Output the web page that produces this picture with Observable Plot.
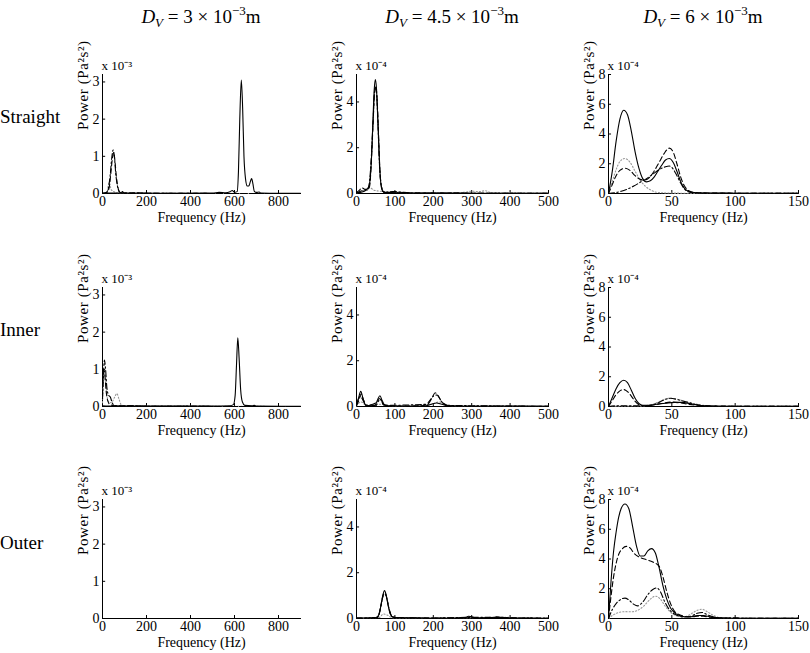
<!DOCTYPE html>
<html><head><meta charset="utf-8">
<script src="https://cdn.jsdelivr.net/npm/d3@7"></script>
<script src="https://cdn.jsdelivr.net/npm/@observablehq/plot@0.6"></script>
<style>
body{margin:0;background:#fff;}
#root{position:relative;width:810px;height:653px;background:#fff;font-family:"Liberation Serif",serif;color:#000;overflow:hidden}
.title{position:absolute;top:6px;font-size:19px;white-space:nowrap;transform:translateX(-50%)}
.title sub{font-size:13px;vertical-align:-4px;line-height:0}
.title sup{font-size:13px;vertical-align:8px;line-height:0}
.row{position:absolute;left:0;font-size:19px;transform:translateY(-50%);white-space:nowrap}
.panel{position:absolute}
.panel svg{max-width:none !important;font-family:"Liberation Serif",serif !important}
.panel svg text{font-family:"Liberation Serif",serif !important}
</style></head><body><div id="root"></div>
<script>
// ---- column / row labels ----
const colTitles = [
  '<i>D</i><sub><i>V</i></sub> = 3 × 10<sup>−3</sup>m',
  '<i>D</i><sub><i>V</i></sub> = 4.5 × 10<sup>−3</sup>m',
  '<i>D</i><sub><i>V</i></sub> = 6 × 10<sup>−3</sup>m'
];
const rowLabels = ["Straight", "Inner", "Outer"];
const xMax = [900, 500, 150];
const xTicks = [[0,200,400,600,800],[0,100,200,300,400,500],[0,50,100,150]];
const yMax = [3.2, 5.2, 8];
const yTicks = [[0,1,2,3],[0,2,4],[0,2,4,6,8]];
const expLabels = ["x 10⁻³", "x 10⁻⁴", "x 10⁻⁴"];

// ---- Straight, D_V = 3e-3 (values x1e-3) ----
const straight3_solid = [[0,0.01],[100,0.01],[200,0.01],[300,0.005],[400,0.005],[500,0.01],[530,0.03],[560,0.02],[580,0.05],[590,0.08],[600,0.03],[612,0.05],[618,0.6],[624,2.0],[631,3.05],[637,2.3],[643,1.0],[650,0.4],[658,0.2],[665,0.2],[672,0.32],[678,0.4],[684,0.25],[690,0.06],[700,0.03],[712,0.04],[720,0.01],[800,0.005],[900,0.005]];
const straight3_dashed = [[0,0],[20,0.03],[30,0.15],[38,0.55],[45,0.95],[51,1.1],[57,0.85],[63,0.45],[72,0.12],[80,0.03],[90,0.05],[100,0.01],[150,0.02],[200,0.005],[900,0]];
const straight3_dashdot = [[0,0],[15,0.02],[25,0.1],[35,0.5],[42,0.95],[48,1.17],[54,1.0],[60,0.55],[68,0.2],[76,0.05],[85,0.02],[92,0.04],[100,0.01],[200,0.005],[900,0]];
const straight3_dotted = [[0,0],[20,0.03],[30,0.3],[40,0.1],[60,0.03],[80,0.01],[120,0.01],[200,0],[900,0]];

// ---- Straight, D_V = 4.5e-3 (values x1e-4) ----
const straight45_solid = [[0,0.02],[10,0.05],[20,0.1],[28,0.2],[33,0.35],[38,1.2],[42,2.8],[46,4.5],[49,4.98],[52,4.6],[56,3.0],[60,1.3],[64,0.35],[68,0.1],[75,0.05],[90,0.05],[100,0.08],[110,0.03],[150,0.02],[300,0.01],[500,0.01]];
const straight45_dashed = [[0,0.05],[8,0.15],[14,0.25],[20,0.2],[28,0.15],[34,0.3],[39,1.5],[43,3.0],[47,4.4],[50,4.7],[53,4.3],[57,2.8],[61,1.0],[65,0.3],[70,0.08],[80,0.04],[100,0.06],[150,0.02],[500,0.01]];
const straight45_dashdot = [[0,0.02],[10,0.1],[20,0.15],[30,0.2],[38,1.4],[43,3.1],[48,4.6],[52,4.4],[56,3.0],[60,1.2],[65,0.3],[72,0.05],[95,0.08],[150,0.02],[500,0.01]];
const straight45_dotted = [[0,0.02],[15,0.1],[25,0.2],[35,0.25],[45,0.15],[60,0.1],[100,0.05],[200,0.03],[280,0.05],[300,0.1],[320,0.08],[335,0.12],[350,0.04],[400,0.02],[500,0.01]];

// ---- Straight, D_V = 6e-3 (values x1e-4) ----
const straight6_solid = [[0,0],[3,1.5],[6,3.5],[9,5.0],[12,5.6],[15,5.3],[18,4.2],[21,2.8],[24,1.7],[27,1.0],[30,0.78],[33,0.85],[36,1.1],[39,1.5],[42,1.9],[45,2.25],[48,2.35],[51,2.1],[54,1.5],[57,0.8],[60,0.35],[63,0.15],[66,0.08],[70,0.05],[80,0.03],[100,0.02],[150,0.01]];
const straight6_dashed = [[0,0],[3,0.6],[6,1.2],[9,1.55],[13,1.7],[17,1.55],[21,1.2],[25,0.95],[28,0.9],[32,1.05],[36,1.5],[40,2.1],[44,2.7],[48,3.05],[51,2.8],[54,2.0],[57,1.1],[60,0.5],[63,0.2],[67,0.08],[75,0.04],[100,0.02],[150,0.01]];
const straight6_dashdot = [[0,0],[5,0.05],[10,0.15],[15,0.3],[20,0.5],[25,0.75],[30,1.0],[35,1.3],[40,1.6],[45,1.8],[48,1.85],[51,1.65],[54,1.2],[57,0.7],[60,0.3],[63,0.12],[67,0.05],[80,0.02],[150,0.01]];
const straight6_dotted = [[0,0],[3,0.8],[6,1.6],[9,2.15],[13,2.35],[17,2.1],[21,1.5],[25,0.9],[29,0.5],[33,0.25],[37,0.1],[42,0.05],[50,0.03],[60,0.02],[150,0.01]];

// ---- Inner, D_V = 3e-3 (values x1e-3) ----
const inner3_solid = [[0,0.02],[50,0.01],[100,0.01],[200,0.01],[400,0.01],[500,0.01],[580,0.02],[595,0.05],[603,0.3],[609,1.1],[615,1.85],[621,1.3],[628,0.45],[636,0.12],[647,0.03],[680,0.02],[690,0.03],[700,0.01],[900,0.005]];
const inner3_dashed = [[0,0.3],[5,1.0],[10,0.9],[16,0.45],[24,0.15],[35,0.05],[60,0.02],[120,0.02],[200,0.005],[900,0]];
const inner3_dashdot = [[0,0.2],[4,0.8],[9,1.25],[14,1.0],[20,0.5],[28,0.3],[36,0.25],[44,0.1],[55,0.03],[80,0.01],[120,0.02],[200,0.005],[900,0]];
const inner3_dotted = [[0,0.1],[8,0.9],[15,0.6],[25,0.15],[40,0.1],[55,0.25],[65,0.35],[75,0.2],[85,0.05],[100,0.02],[900,0]];

// ---- Inner, D_V = 4.5e-3 (values x1e-4) ----
const inner45_solid = [[0,0.05],[5,0.35],[11,0.66],[17,0.35],[24,0.06],[35,0.03],[48,0.05],[55,0.3],[61,0.47],[67,0.25],[74,0.05],[90,0.02],[150,0.01],[180,0.03],[195,0.1],[208,0.15],[222,0.1],[240,0.03],[300,0.01],[400,0.02],[500,0.01]];
const inner45_dashed = [[0,0.05],[7,0.3],[12,0.55],[18,0.3],[25,0.05],[50,0.03],[60,0.35],[70,0.1],[90,0.02],[170,0.03],[185,0.15],[197,0.4],[205,0.6],[213,0.45],[225,0.15],[245,0.03],[300,0.01],[500,0.01]];
const inner45_dashdot = [[0,0.05],[10,0.45],[16,0.3],[25,0.05],[55,0.2],[63,0.3],[72,0.05],[185,0.1],[200,0.45],[210,0.5],[220,0.25],[235,0.05],[500,0.01]];
const inner45_dotted = [[0,0.03],[12,0.2],[25,0.05],[60,0.1],[100,0.02],[195,0.1],[215,0.2],[235,0.05],[300,0.02],[500,0.01]];

// ---- Inner, D_V = 6e-3 (values x1e-4) ----
const inner6_solid = [[0,0],[3,0.6],[6,1.2],[9,1.6],[12,1.76],[15,1.6],[18,1.1],[21,0.55],[24,0.2],[27,0.08],[32,0.08],[38,0.15],[45,0.22],[52,0.28],[58,0.28],[64,0.2],[70,0.1],[76,0.04],[85,0.02],[150,0.01]];
const inner6_dashed = [[0,0],[3,0.4],[6,0.8],[9,1.05],[12,1.14],[15,1.0],[18,0.7],[21,0.35],[24,0.12],[28,0.05],[35,0.1],[42,0.2],[50,0.3],[56,0.25],[63,0.15],[70,0.08],[80,0.03],[150,0.01]];
const inner6_dashdot = [[0,0],[5,0.04],[10,0.05],[20,0.04],[30,0.05],[38,0.2],[44,0.45],[49,0.55],[55,0.45],[62,0.3],[70,0.12],[78,0.04],[90,0.02],[150,0.01]];
const inner6_dotted = [[0,0],[10,0.03],[25,0.03],[35,0.15],[42,0.4],[48,0.55],[54,0.5],[62,0.3],[70,0.15],[78,0.05],[90,0.02],[150,0.01]];

// ---- Outer, D_V = 3e-3 (values x1e-3) : all at zero ----
const outer3_solid = [[0,0],[900,0]];
const outer3_dashed = [[0,0],[900,0]];
const outer3_dashdot = [[0,0],[900,0]];
const outer3_dotted = [[0,0],[900,0]];

// ---- Outer, D_V = 4.5e-3 (values x1e-4) ----
const outer45_solid = [[0,0.02],[30,0.02],[50,0.03],[58,0.15],[64,0.6],[69,1.05],[73,1.22],[77,1.05],[82,0.6],[88,0.2],[95,0.06],[110,0.03],[150,0.03],[200,0.01],[280,0.02],[292,0.1],[300,0.08],[310,0.02],[355,0.02],[365,0.07],[375,0.03],[500,0.01]];
const outer45_dashed = [[0,0.02],[50,0.03],[59,0.2],[65,0.7],[70,1.05],[74,1.12],[78,0.95],[83,0.55],[90,0.15],[100,0.04],[150,0.02],[290,0.03],[297,0.08],[305,0.02],[370,0.05],[380,0.04],[500,0.01]];
const outer45_dashdot = [[0,0.01],[55,0.05],[63,0.5],[70,1.0],[75,1.05],[80,0.8],[86,0.35],[95,0.05],[200,0.02],[300,0.05],[380,0.05],[400,0.03],[500,0.01]];
const outer45_dotted = [[0,0.01],[60,0.05],[70,0.2],[80,0.15],[95,0.03],[200,0.02],[250,0.03],[300,0.04],[390,0.05],[420,0.03],[460,0.04],[500,0.01]];

// ---- Outer, D_V = 6e-3 (values x1e-4) ----
const outer6_solid = [[0,0],[2,2.5],[4,4.5],[6,5.8],[8,6.8],[10,7.4],[13,7.7],[16,7.4],[19,6.2],[22,4.9],[25,4.2],[28,4.2],[31,4.55],[34,4.7],[37,4.4],[40,3.4],[43,2.2],[46,1.3],[49,0.7],[52,0.4],[56,0.2],[60,0.12],[65,0.12],[70,0.2],[75,0.2],[80,0.12],[85,0.06],[90,0.03],[100,0.02],[150,0.01]];
const outer6_dashed = [[0,0],[2,1.5],[4,2.8],[6,3.7],[8,4.3],[11,4.7],[14,4.85],[17,4.75],[20,4.4],[25,4.1],[30,3.95],[35,3.8],[40,3.5],[43,2.8],[46,1.8],[49,1.0],[52,0.5],[56,0.25],[60,0.15],[65,0.1],[70,0.15],[75,0.15],[80,0.08],[90,0.03],[150,0.01]];
const outer6_dashdot = [[0,0],[3,0.6],[6,1.0],[10,1.3],[13,1.37],[16,1.25],[20,0.95],[23,0.85],[27,1.1],[31,1.6],[35,1.95],[38,2.05],[41,1.8],[44,1.2],[48,0.6],[52,0.3],[56,0.15],[60,0.1],[65,0.15],[70,0.35],[74,0.4],[78,0.25],[83,0.1],[90,0.03],[150,0.01]];
const outer6_dotted = [[0,0],[4,0.25],[8,0.4],[13,0.46],[18,0.45],[23,0.55],[28,0.85],[33,1.3],[37,1.5],[41,1.3],[45,0.8],[50,0.35],[55,0.15],[60,0.12],[65,0.3],[70,0.55],[74,0.62],[78,0.45],[83,0.2],[88,0.05],[100,0.02],[150,0.01]];

const grid = [
  [[straight3_solid,straight3_dashed,straight3_dashdot,straight3_dotted],
   [straight45_solid,straight45_dashed,straight45_dashdot,straight45_dotted],
   [straight6_solid,straight6_dashed,straight6_dashdot,straight6_dotted]],
  [[inner3_solid,inner3_dashed,inner3_dashdot,inner3_dotted],
   [inner45_solid,inner45_dashed,inner45_dashdot,inner45_dotted],
   [inner6_solid,inner6_dashed,inner6_dashdot,inner6_dotted]],
  [[outer3_solid,outer3_dashed,outer3_dashdot,outer3_dotted],
   [outer45_solid,outer45_dashed,outer45_dashdot,outer45_dotted],
   [outer6_solid,outer6_dashed,outer6_dashdot,outer6_dotted]]
];

// ---- layout ----
const W = [198, 192, 190];
const LEFT = [102, 356, 608];
const ZERO = [193, 406, 618];
const H = 119;
const ML = 48, MR = 14, MT = 24, MB = 40;
const FONT = "'Liberation Serif', serif";
const lineStyles = [
  {stroke: "#000", strokeDasharray: null},
  {stroke: "#000", strokeDasharray: "5,3"},
  {stroke: "#000", strokeDasharray: "6,2.5,1.5,2.5"},
  {stroke: "#999", strokeDasharray: "1.2,2"}
];

const root = document.getElementById("root");

function panel(c, r) {
  const xmax = xMax[c], ymax = yMax[c];
  const marks = [
    Plot.ruleY([0], {stroke: "#000", strokeWidth: 1}),
    Plot.ruleX([0], {stroke: "#000", strokeWidth: 1}),
    Plot.ruleX(xTicks[c], {y1: 0, y2: ymax * 0.025, stroke: "#000"}),
    Plot.ruleY(yTicks[c], {x1: 0, x2: xmax * 0.016, stroke: "#000"})
  ];
  grid[r][c].slice().reverse().forEach((s, i) => {
    const st = lineStyles[3 - i];
    const o = {x: d => d[0], y: d => d[1], stroke: st.stroke, strokeWidth: 1.1, curve: "monotone-x"};
    if (st.strokeDasharray) o.strokeDasharray = st.strokeDasharray;
    marks.push(Plot.line(s, o));
  });
  marks.push(Plot.text([expLabels[c]], {frameAnchor: "top-left", lineAnchor: "bottom", textAnchor: "start", dx: -1, dy: -5, fontSize: 13, fontFamily: FONT}));
  marks.push(Plot.text(["Frequency (Hz)"], {frameAnchor: "bottom", dy: 28, fontSize: 14, fontFamily: FONT}));
  marks.push(Plot.text(["Power (Pa²s²)"], {frameAnchor: "left", dx: -19, dy: -4, rotate: -90, fontSize: 15, fontFamily: FONT}));
  const svg = Plot.plot({
    width: ML + W[c] + MR, height: MT + H + MB,
    marginLeft: ML, marginRight: MR, marginTop: MT, marginBottom: MB,
    x: {domain: [0, xmax], ticks: xTicks[c], tickSize: 0, tickPadding: 3, tickFormat: d => String(d), label: null},
    y: {domain: [0, ymax], ticks: yTicks[c], tickSize: 0, tickPadding: 3, tickFormat: d => String(d), label: null},
    style: {fontFamily: FONT, fontSize: "14px", background: "transparent", overflow: "visible", color: "#000"},
    marks
  });
  svg.querySelectorAll("text").forEach(t => {
    if (t.textContent === "Power (Pa²s²)") t.setAttribute("letter-spacing", "0.6");
  });
  return svg;
}

for (let c = 0; c < 3; c++) {
  const t = document.createElement("div");
  t.className = "title";
  t.innerHTML = colTitles[c];
  t.style.left = (LEFT[c] + W[c] / 2) + "px";
  root.appendChild(t);
}
const rowY = [117, 330, 543];
for (let r = 0; r < 3; r++) {
  const d = document.createElement("div");
  d.className = "row";
  d.textContent = rowLabels[r];
  d.style.top = rowY[r] + "px";
  root.appendChild(d);
}
for (let r = 0; r < 3; r++) {
  for (let c = 0; c < 3; c++) {
    const svg = panel(c, r);
    const wrap = document.createElement("div");
    wrap.className = "panel";
    wrap.style.left = (LEFT[c] - ML) + "px";
    wrap.style.top = (ZERO[r] - H - MT) + "px";
    wrap.style.width = (ML + W[c] + MR) + "px";
    wrap.appendChild(svg);
    root.appendChild(wrap);
  }
}
</script></body></html>
